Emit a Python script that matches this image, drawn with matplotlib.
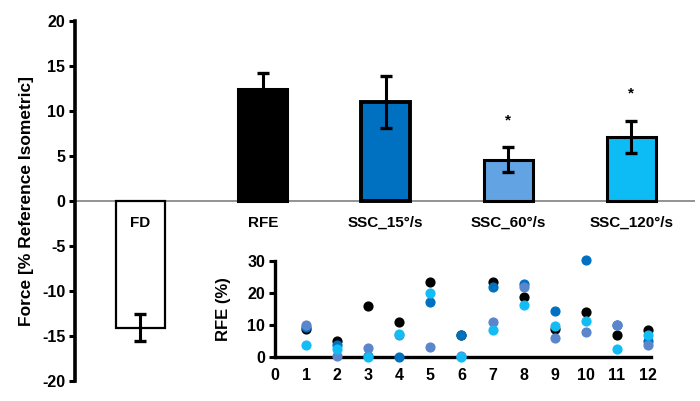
import numpy as np
import matplotlib
matplotlib.use('Agg')
import matplotlib.pyplot as plt

plt.rcParams['font.family'] = ['Liberation Sans', 'DejaVu Sans']
plt.rcParams['font.weight'] = 'bold'
plt.rcParams['axes.unicode_minus'] = False

# bar data
conditions = ['FD', 'RFE', 'SSC_15°/s', 'SSC_60°/s', 'SSC_120°/s']
force_mean = [-14.1, 12.4, 11.0, 4.6, 7.1]
force_err = [1.5, 1.8, 2.9, 1.35, 1.8]
bar_colors = ['white', 'black', '#0070C0', '#62A3E3', '#0DBBF5']
signif = ['', '', '', '*', '*']

# individual RFE per subject (inset)
subjects = list(range(1, 13))
rfe_rfe = [8.7, 4.9, 16.0, 11.0, 23.3, 6.8, 23.3, 18.7, 8.7, 14.0, 7.0, 8.3]
rfe_ssc15 = [9.5, 3.8, 0.3, 0.0, 17.1, 6.8, 21.8, 22.8, 14.4, 30.3, 10.0, 5.0]
rfe_ssc60 = [10.1, 0.3, 2.7, 7.0, 3.2, 0.2, 10.8, 22.0, 5.8, 7.8, 10.1, 3.8]
rfe_ssc120 = [3.8, 2.5, 0.1, 7.2, 20.1, 0.0, 8.3, 16.1, 9.6, 11.3, 2.5, 6.8]

fig = plt.figure(figsize=(7, 4.01), dpi=100)

#%% main bar chart
ax = fig.add_axes([75/700, 1-381/401, 620/700, 360/401])
x = np.arange(len(conditions))
ax.bar(x, force_mean, width=0.4, color=bar_colors, edgecolor='black',
       linewidth=[1.6, 2.2, 2.8, 2.2, 2.2], zorder=2)
ax.errorbar(x, force_mean, yerr=force_err, fmt='none', ecolor='black',
            elinewidth=2.2, capsize=4.5, capthick=2.4, zorder=3)
ax.axhline(0, color='#808080', linewidth=1.2, zorder=1)

for i, name in enumerate(conditions):
    ax.text(x[i], -2.4, name, ha='center', va='center', fontsize=11, fontweight='bold')
    if signif[i]:
        top = force_mean[i] + force_err[i]
        ax.text(x[i], top + 3.0, signif[i], ha='center', va='center', fontsize=11, fontweight='bold')

ax.set_xlim(-0.53, 4.52)
ax.set_ylim(-20, 20)
ax.set_yticks(np.arange(-20, 21, 5))
ax.set_xticks([])
for s in ['top', 'right', 'bottom']:
    ax.spines[s].set_visible(False)
ax.spines['left'].set_linewidth(2.6)
ax.tick_params(axis='y', direction='out', length=4, width=2.2, labelsize=11.5, pad=3)
for lab in ax.get_yticklabels():
    lab.set_fontweight('bold')
ax.set_ylabel('Force [% Reference Isometric]', fontsize=12.5, fontweight='bold', labelpad=6)

#%% inset with single subjects
ax2 = fig.add_axes([275/700, 1-357/401, 376/700, 96/401])
ax2.scatter(subjects, rfe_rfe, s=40, color='black', clip_on=False, zorder=3)
ax2.scatter(subjects, rfe_ssc15, s=40, color='#0070C0', clip_on=False, zorder=4)
ax2.scatter(subjects, rfe_ssc60, s=40, color='#5B86CC', clip_on=False, zorder=5)
ax2.scatter(subjects, rfe_ssc120, s=40, color='#12BDF5', clip_on=False, zorder=6)

ax2.set_xlim(0, 12.1)
ax2.set_ylim(0, 30)
ax2.set_xticks(range(0, 13))
ax2.set_yticks([0, 10, 20, 30])
ax2.patch.set_alpha(0)
for s in ['top', 'right']:
    ax2.spines[s].set_visible(False)
ax2.spines['left'].set_linewidth(2.4)
ax2.spines['bottom'].set_linewidth(2.4)
ax2.tick_params(axis='y', direction='out', length=4, width=2.2, labelsize=11.5, pad=3)
ax2.tick_params(axis='x', length=0, labelsize=11.5, pad=8)
for lab in ax2.get_xticklabels() + ax2.get_yticklabels():
    lab.set_fontweight('bold')
ax2.set_ylabel('RFE (%)', fontsize=12, fontweight='bold', labelpad=12)

fig.savefig('out.png', dpi=100)
